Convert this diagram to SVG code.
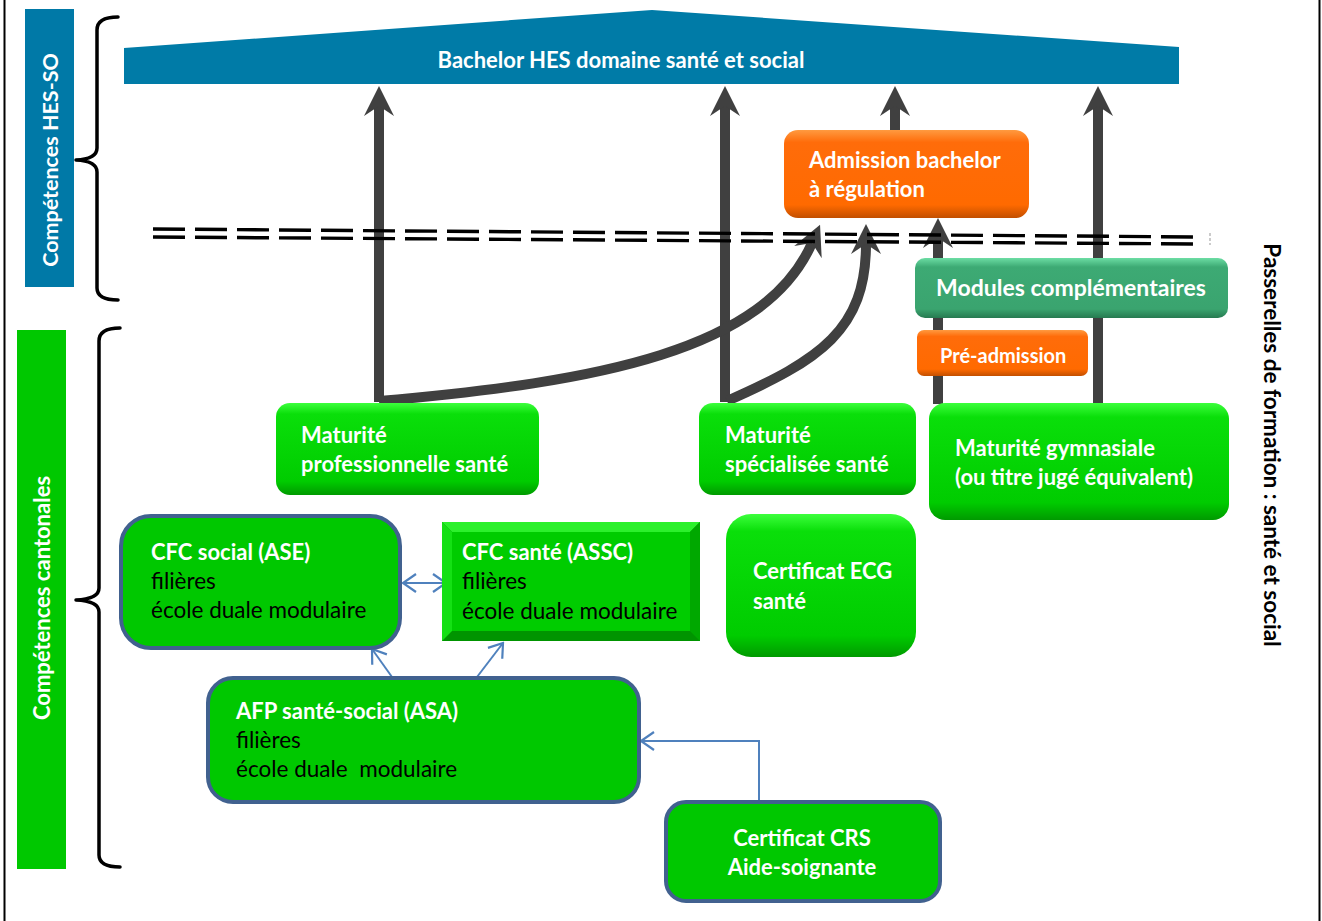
<svg xmlns="http://www.w3.org/2000/svg" width="1322" height="921" viewBox="0 0 1322 921">
<style>
text{font-family:Lato,"Open Sans","Liberation Sans",sans-serif;}
.w{fill:#fff;font-weight:bold;font-size:22px;}
.k{fill:#000;font-size:22.5px;}
.kb{fill:#000;font-weight:bold;font-size:22.5px;}
.brace{fill:none;stroke:#000;stroke-width:3.5;stroke-linecap:round;stroke-linejoin:round;}
.arr{fill:none;stroke:#404040;stroke-width:10;marker-end:url(#ah);}
.blue{fill:none;stroke:#4F81BD;stroke-width:2;}
.dash{stroke:#000;stroke-width:3.4;stroke-dasharray:32 10;}
.gbox{fill:url(#gGreen);}
.bbox{fill:#00C800;stroke:#41618F;stroke-width:4;}
.obox{fill:url(#gOrange);}
</style>
<defs>
<linearGradient id="gGreen" x1="0" y1="0" x2="0" y2="1">
<stop offset="0" stop-color="#3CFF3C"/>
<stop offset="0.12" stop-color="#0ADF0A"/>
<stop offset="0.85" stop-color="#00CC00"/>
<stop offset="1" stop-color="#009A00"/>
</linearGradient>
<linearGradient id="gOrange" x1="0" y1="0" x2="0" y2="1">
<stop offset="0" stop-color="#FF9A40"/>
<stop offset="0.14" stop-color="#FF6C0A"/>
<stop offset="0.85" stop-color="#FF6A00"/>
<stop offset="1" stop-color="#C24F00"/>
</linearGradient>
<linearGradient id="gTeal" x1="0" y1="0" x2="0" y2="1">
<stop offset="0" stop-color="#6CDDA4"/>
<stop offset="0.15" stop-color="#3DAA74"/>
<stop offset="0.85" stop-color="#3AA46F"/>
<stop offset="1" stop-color="#267A50"/>
</linearGradient>
<marker id="ah" viewBox="0 0 30 30" refX="10" refY="15" markerWidth="30" markerHeight="30" markerUnits="userSpaceOnUse" orient="auto">
<path d="M30,15 L0,0 L10,15 L0,30 Z" fill="#404040"/>
</marker>
<marker id="bh" viewBox="0 0 24 24" refX="22" refY="12" markerWidth="24" markerHeight="24" markerUnits="userSpaceOnUse" orient="auto-start-reverse">
<path d="M9,3 L22,12 L9,21" fill="none" stroke="#4F81BD" stroke-width="2.2"/>
</marker>
</defs>

<rect x="0" y="0" width="1322" height="921" fill="#fff"/>
<line x1="4.5" y1="0" x2="4.5" y2="921" stroke="#000" stroke-width="2"/>
<line x1="1319.5" y1="0" x2="1319.5" y2="921" stroke="#000" stroke-width="2"/>

<g id="label-hes">
<rect x="25" y="9" width="49" height="278" fill="#0079A7"/>
<text class="w" transform="translate(58,160) rotate(-90)" text-anchor="middle" style="font-size:21.5px">Compétences HES-SO</text>
</g>
<g id="label-cantonales">
<rect x="17" y="330" width="49" height="539" fill="#00C800"/>
<text class="w" transform="translate(50,598) rotate(-90)" text-anchor="middle">Compétences cantonales</text>
</g>
<g id="braces">
<path class="brace" d="M118,17 Q97,17 97,30 L97,148 Q97,159 76,160 Q97,161 97,172 L97,288 Q97,300 118,300"/>
<path class="brace" d="M120,328 Q99,328 99,341 L99,588 Q99,599 76,600 Q99,601 99,612 L99,855 Q99,867 120,867"/>
</g>
<g id="label-passerelles">
<text class="kb" transform="translate(1264,445) rotate(90)" text-anchor="middle">Passerelles de formation : santé et social</text>
</g>

<g id="bachelor">
<polygon points="124,48 652,10 1179,47 1179,84 124,84" fill="#007BA7"/>
<text class="w" x="621" y="68" text-anchor="middle">Bachelor HES domaine santé et social</text>
</g>

<g id="connectors">
<line class="arr" x1="379" y1="402" x2="379" y2="106"/>
<line class="arr" x1="725" y1="402" x2="725" y2="106"/>
<line class="arr" x1="895" y1="132" x2="895" y2="106"/>
<line class="arr" x1="1098" y1="404" x2="1098" y2="106"/>
<line class="arr" x1="938" y1="404" x2="938" y2="238"/>
<path class="arr" d="M379,401 C600,382 765,350 812,243"/>
<path class="arr" d="M727,401 C820,360 866,330 866,244"/>
<line class="blue" x1="403" y1="583" x2="446" y2="583" marker-start="url(#bh)" marker-end="url(#bh)"/>
<line class="blue" x1="392" y1="677" x2="372" y2="649" marker-end="url(#bh)"/>
<line class="blue" x1="477" y1="677" x2="503" y2="643" marker-end="url(#bh)"/>
<polyline class="blue" points="759,801 759,741 641,741" marker-end="url(#bh)"/>
</g>

<g id="separator">
<line class="dash" x1="153" y1="229" x2="1200" y2="237"/>
<line class="dash" x1="153" y1="237" x2="1200" y2="244"/>
<line x1="1210" y1="233" x2="1210" y2="245" stroke="#bbb" stroke-width="1.5" stroke-dasharray="3 2"/>
</g>

<g id="admission">
<rect class="obox" x="784" y="130" width="245" height="88" rx="14"/>
<text class="w" x="809" y="168">Admission bachelor</text>
<text class="w" x="809" y="197">à régulation</text>
</g>
<g id="modules">
<rect x="915" y="258" width="313" height="60" rx="10" fill="url(#gTeal)"/>
<text class="w" x="1071" y="296" text-anchor="middle" style="font-size:23px">Modules complémentaires</text>
</g>
<g id="preadmission">
<rect class="obox" x="917" y="330" width="171" height="46" rx="7"/>
<text class="w" x="940" y="363" style="font-size:20px">Pré-admission</text>
</g>
<g id="mat-pro">
<rect class="gbox" x="276" y="403" width="263" height="92" rx="14"/>
<text class="w" x="301" y="443">Maturité</text>
<text class="w" x="301" y="472">professionnelle santé</text>
</g>
<g id="mat-spec">
<rect class="gbox" x="699" y="403" width="217" height="92" rx="14"/>
<text class="w" x="725" y="443">Maturité</text>
<text class="w" x="725" y="472">spécialisée santé</text>
</g>
<g id="mat-gym">
<rect class="gbox" x="929" y="403" width="300" height="117" rx="16"/>
<text class="w" x="955" y="456">Maturité gymnasiale</text>
<text class="w" x="955" y="485">(ou titre jugé équivalent)</text>
</g>
<g id="cfc-social">
<rect class="bbox" x="121" y="516" width="279" height="132" rx="30"/>
<text class="w" x="151" y="560">CFC social (ASE)</text>
<text class="k" x="151" y="589">filières</text>
<text class="k" x="151" y="618">école duale modulaire</text>
</g>
<g id="cfc-sante">
<rect x="442" y="522" width="258" height="119" fill="#009400"/>
<polygon points="442,522 700,522 690,532 452,532" fill="#2CF02C"/>
<polygon points="442,522 452,532 452,631 442,641" fill="#14E014"/>
<polygon points="700,522 700,641 690,631 690,532" fill="#00A800"/>
<rect x="452" y="532" width="238" height="99" fill="#00CC00"/>
<text class="w" x="462" y="560">CFC santé (ASSC)</text>
<text class="k" x="462" y="589">filières</text>
<text class="k" x="462" y="619">école duale modulaire</text>
</g>
<g id="ecg">
<rect class="gbox" x="726" y="514" width="190" height="143" rx="25"/>
<text class="w" x="753" y="579">Certificat ECG</text>
<text class="w" x="753" y="609">santé</text>
</g>
<g id="afp">
<rect class="bbox" x="208" y="678" width="431" height="124" rx="25"/>
<text class="w" x="236" y="719">AFP santé-social (ASA)</text>
<text class="k" x="236" y="748">filières</text>
<text class="k" x="236" y="777" xml:space="preserve">école duale  modulaire</text>
</g>
<g id="crs">
<rect class="bbox" x="666" y="802" width="274" height="99" rx="20"/>
<text class="w" x="802" y="846" text-anchor="middle">Certificat CRS</text>
<text class="w" x="802" y="875" text-anchor="middle">Aide-soignante</text>
</g>
</svg>
